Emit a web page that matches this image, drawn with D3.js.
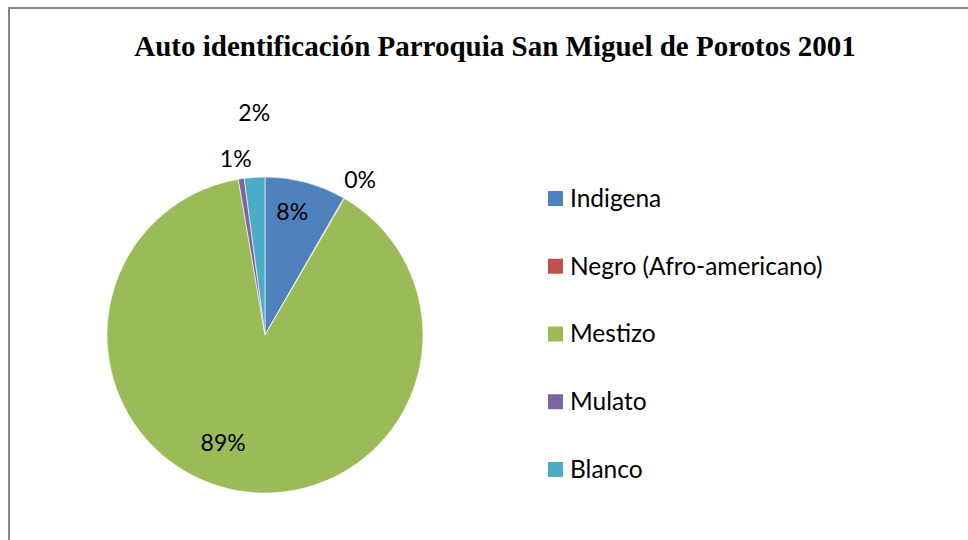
<!DOCTYPE html>
<html>
<head>
<meta charset="utf-8">
<script src="https://cdn.jsdelivr.net/npm/d3@7"></script>
<style>
  body { margin: 0; background: #fff; }
  svg { display: block; }
</style>
</head>
<body>
<svg id="chart"></svg>
<script>
// data (percent of population)
const categories = ["Indigena", "Negro (Afro-americano)", "Mestizo", "Mulato", "Blanco"];
const values = [8.3, 0.1, 88.9, 0.6, 2.1];
const colors = ["#4F81BD", "#C0504D", "#9BBB59", "#8064A2", "#4BACC6"];
const title = "Auto identificación Parroquia San Miguel de Porotos 2001";

// where Excel put each data label: [radius factor, angle shift in degrees]
const labelPlace = [[0.8, -2.5], [1.15, 1.5], [0.73, 11], [1.13, -0.8], [1.41, 1]];

const width = 968, height = 540;
const cx = 265, cy = 335, r = 158;

const svg = d3.select("#chart")
  .attr("width", width)
  .attr("height", height);

// chart area border (only left and top are visible)
svg.append("path")
  .attr("d", `M9,${height} L9,8 L${width},8`)
  .attr("fill", "none")
  .attr("stroke", "#868686")
  .attr("stroke-width", 2);

svg.append("text")
  .attr("x", 495)
  .attr("y", 56)
  .attr("text-anchor", "middle")
  .style("font-family", "'Liberation Serif', 'Times New Roman', serif")
  .style("font-weight", "bold")
  .style("font-size", "29px")
  .text(title);

const data = categories.map((c, i) => ({ name: c, value: values[i], color: colors[i] }));

const pie = d3.pie().sort(null).value(d => d.value);
const arcs = pie(data);
const arc = d3.arc().innerRadius(0).outerRadius(r);

const g = svg.append("g").attr("transform", `translate(${cx},${cy})`);

g.selectAll("path")
  .data(arcs)
  .join("path")
    .attr("d", arc)
    .attr("fill", d => d.data.color)
    .attr("stroke", "#fff")
    .attr("stroke-width", 0.6);

g.selectAll("text")
  .data(arcs)
  .join("text")
    .attr("transform", (d, i) => {
      const a = (d.startAngle + d.endAngle) / 2 + labelPlace[i][1] * Math.PI / 180;
      const rr = r * labelPlace[i][0];
      return `translate(${rr * Math.sin(a)},${-rr * Math.cos(a)})`;
    })
    .attr("text-anchor", "middle")
    .attr("dy", "0.35em")
    .style("font-family", "Lato, 'Noto Sans', sans-serif")
    .style("font-size", "23px")
    .attr("fill", "#000")
    .text(d => Math.round(d.data.value) + "%");

// legend
const ly = d3.scalePoint()
  .domain(categories)
  .range([198, 469]);

const legend = svg.append("g")
  .selectAll("g")
  .data(data)
  .join("g")
    .attr("transform", d => `translate(548,${ly(d.name)})`);

legend.append("rect")
  .attr("x", 0)
  .attr("y", -7)
  .attr("width", 15)
  .attr("height", 15)
  .attr("fill", d => d.color);

legend.append("text")
  .attr("x", 22)
  .attr("dy", "0.36em")
  .style("font-family", "Lato, 'Noto Sans', sans-serif")
  .style("font-size", "24.5px")
  .attr("fill", "#000")
  .text(d => d.name);
</script>
</body>
</html>
